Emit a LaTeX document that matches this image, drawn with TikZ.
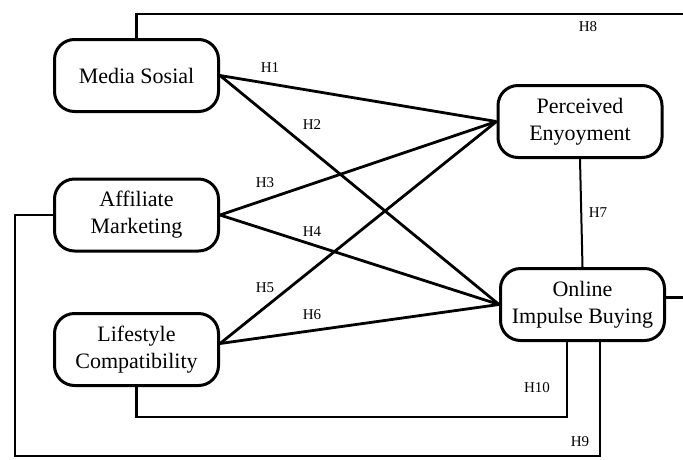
\documentclass[tikz,border=0pt]{standalone}
\usepackage{fontspec}
\setmainfont{Liberation Serif}

\tikzset{
    konstruk/.style={draw, line width=3pt, rounded corners=20pt, align=center,
        minimum width=164pt, minimum height=72pt, inner sep=2pt,
        font=\fontsize{22}{27}\selectfont},
    hlabel/.style={font=\fontsize{15}{18}\selectfont, inner sep=0pt},
    jalur/.style={line width=2.8pt},
}

\begin{document}
\begin{tikzpicture}[x=1pt, y=-1pt]

    \useasboundingbox (0,0) rectangle (683,459);

    %% Constructs
    \node[konstruk] (medsos) at (136.5,75.5) {Media Sosial};
    \node[konstruk] (affiliate) at (136.5,215) {Affiliate\\Marketing};
    \node[konstruk] (lifestyle) at (136.5,349.5) {Lifestyle\\Compatibility};
    \node[konstruk] (perceived) at (580,121.5) {Perceived\\Enyoyment};
    \node[konstruk] (impulse) at (582.5,304.5) {Online\\Impulse Buying};

    % Corners of the outer paths
    \coordinate (h8sudut) at (692,14);
    \coordinate (h9sudut) at (15,456);
    \coordinate (h10sudut) at (567,417);

    %% Direct paths
    \draw[jalur] (medsos.east) -- (perceived.west);
    \draw[jalur] (medsos.east) -- (impulse.west);
    \draw[jalur] (affiliate.east) -- (perceived.west);
    \draw[jalur] (affiliate.east) -- (impulse.west);
    \draw[jalur] ([yshift=6pt]lifestyle.east) -- (perceived.west);
    \draw[jalur] ([yshift=6pt]lifestyle.east) -- (impulse.west);
    \draw[line width=2pt] (perceived.south) -- (impulse.north);

    %% Outer paths
    \draw[jalur] (medsos.north) |- (h8sudut) |- ([yshift=7pt]impulse.east);
    \draw[jalur] (affiliate.west) -| (h9sudut) -| ([xshift=17.5pt]impulse.south);
    \draw[jalur] (lifestyle.south) |- (h10sudut) -- ([xshift=-15.5pt]impulse.south);

    %% Labels
    \node[hlabel] (h1) at (270,68) {H1};
    \node[hlabel] (h2) at (312,125) {H2};
    \node[hlabel] (h3) at (265,183) {H3};
    \node[hlabel] (h4) at (312,232) {H4};
    \node[hlabel] (h5) at (265,288) {H5};
    \node[hlabel] (h6) at (312,315) {H6};
    \node[hlabel] (h7) at (598,213) {H7};
    \node[hlabel] (h8) at (588,27) {H8};
    \node[hlabel] (h9) at (580,442) {H9};
    \node[hlabel] (h10) at (537,388) {H10};

\end{tikzpicture}
\end{document}
